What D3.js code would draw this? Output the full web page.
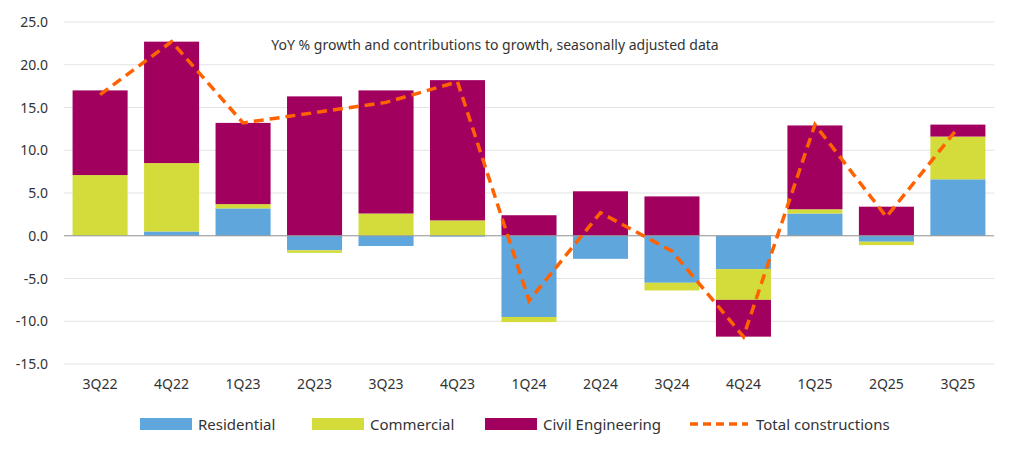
<!DOCTYPE html>
<html><head><meta charset="utf-8">
<script src="https://cdn.jsdelivr.net/npm/d3@7"></script>
<style>body{margin:0;background:#fff;font-family:"Noto Sans",sans-serif}</style>
</head><body><svg id="c" width="1014" height="453"></svg>
<script>
const quarters = ['3Q22','4Q22','1Q23','2Q23','3Q23','4Q23','1Q24','2Q24','3Q24','4Q24','1Q25','2Q25','3Q25'];
const residential = [0, 0.5, 3.2, -1.7, -1.2, -0.1, -9.5, -2.7, -5.5, -3.9, 2.6, -0.7, 6.6];
const commercial = [7.1, 8.0, 0.5, -0.3, 2.6, 1.8, -0.6, 0, -0.9, -3.6, 0.5, -0.4, 5.0];
const civil = [9.9, 14.2, 9.5, 16.3, 14.4, 16.4, 2.4, 5.2, 4.6, -4.3, 9.8, 3.4, 1.4];
const total = [16.5, 22.7, 13.2, 14.4, 15.6, 18.0, -7.6, 2.7, -1.8, -11.8, 13.0, 2.2, 12.6];
const yTicks = [-15, -10, -5, 0, 5, 10, 15, 20, 25];
const series = [
  {key: 'Residential', vals: residential, color: '#5ea6dc'},
  {key: 'Commercial', vals: commercial, color: '#d4dc3c'},
  {key: 'Civil Engineering', vals: civil, color: '#a2005e'}
];

const svg = d3.select('#c');
const m = {l: 64, r: 20, t: 22, b: 89};
const W = 1014, H = 453;
const x = d3.scaleBand().domain(quarters).range([m.l, W - m.r]).paddingInner(0.23).paddingOuter(0.12);
const y = d3.scaleLinear().domain([-15, 25]).range([H - m.b, m.t]);

svg.append('g').selectAll('line').data(yTicks).join('line')
  .attr('x1', m.l).attr('x2', W - m.r).attr('y1', d => y(d)).attr('y2', d => y(d))
  .attr('stroke', '#e3e3e3');
svg.append('g').selectAll('text').data(yTicks).join('text')
  .attr('x', 48).attr('y', d => y(d) + 5).attr('text-anchor', 'end')
  .attr('font-size', 14).attr('fill', '#333').text(d => d.toFixed(1));

const rows = quarters.map((q, i) => ({q, Residential: residential[i], Commercial: commercial[i], 'Civil Engineering': civil[i]}));
const stack = d3.stack().keys(series.map(s => s.key)).offset(d3.stackOffsetDiverging)(rows);
svg.append('g').selectAll('g').data(stack).join('g')
  .attr('fill', (d, i) => series[i].color)
  .selectAll('rect').data(d => d).join('rect')
  .attr('x', d => x(d.data.q)).attr('width', x.bandwidth())
  .attr('y', d => y(Math.max(d[0], d[1]))).attr('height', d => Math.abs(y(d[0]) - y(d[1])));

svg.append('line').attr('x1', m.l).attr('x2', W - m.r).attr('y1', y(0)).attr('y2', y(0)).attr('stroke', '#999');

svg.append('path').datum(total)
  .attr('d', d3.line().x((d, i) => x(quarters[i]) + x.bandwidth() / 2).y(d => y(d)))
  .attr('fill', 'none').attr('stroke', '#ff6200').attr('stroke-width', 3.5).attr('stroke-dasharray', '10,6');

svg.append('g').selectAll('text').data(quarters).join('text')
  .attr('x', d => x(d) + x.bandwidth() / 2).attr('y', H - m.b + 25).attr('text-anchor', 'middle')
  .attr('font-size', 14).attr('fill', '#333').text(d => d);

svg.append('text').attr('x', 495).attr('y', 50).attr('text-anchor', 'middle')
  .attr('font-size', 14).attr('fill', '#333').text('YoY % growth and contributions to growth,  seasonally adjusted data');

const leg = [
  {label: 'Residential', color: '#5ea6dc', x: 140},
  {label: 'Commercial', color: '#d4dc3c', x: 312},
  {label: 'Civil Engineering', color: '#a2005e', x: 485},
  {label: 'Total constructions', color: '#ff6200', x: 690, line: true}
];
const lg = svg.append('g').selectAll('g').data(leg).join('g').attr('transform', d => `translate(${d.x},424)`);
lg.each(function(d) {
  const g = d3.select(this);
  if (d.line) g.append('line').attr('x1', 0).attr('x2', 58).attr('y1', 0).attr('y2', 0)
    .attr('stroke', d.color).attr('stroke-width', 3.5).attr('stroke-dasharray', '8,5');
  else g.append('rect').attr('x', 0).attr('y', -6).attr('width', 52).attr('height', 12).attr('fill', d.color);
  g.append('text').attr('x', d.line ? 66 : 58).attr('y', 6).attr('font-size', 15).attr('fill', '#333').text(d.label);
});
</script></body></html>
